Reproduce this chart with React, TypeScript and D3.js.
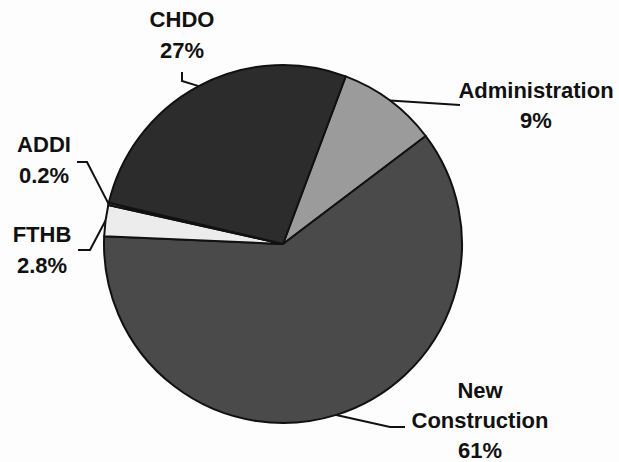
import React from "react";
import * as d3 from "d3";

const categories = ["Administration", "New Construction", "FTHB", "ADDI", "CHDO"];
const values = [9, 61, 2.8, 0.2, 27];
const valueLabels = ["9%", "61%", "2.8%", "0.2%", "27%"];
const labelLines: string[][] = [["Administration"], ["New", "Construction"], ["FTHB"], ["ADDI"], ["CHDO"]];
const colors = ["#9b9b9b", "#4a4a4a", "#ececec", "#e4e4e4", "#2c2c2c"];

const W = 619;
const H = 462;
const cx = 283;
const cy = 244;
const R = 179;

// layout for labels: [textX, firstBaseline, line height, elbow points...]
const labelLayout: { x: number; y: number; lh: number; path: [number, number][] }[] = [
  { x: 536, y: 98, lh: 30, path: [[460, 105]] },
  { x: 480, y: 398, lh: 30, path: [[390, 427], [405, 427]] },
  { x: 42, y: 242, lh: 31, path: [[90, 250], [78, 250]] },
  { x: 44, y: 152, lh: 31, path: [[87, 162], [77, 162]] },
  { x: 182, y: 27, lh: 31, path: [[182, 81], [182, 72]] },
];

export default function App() {
  const start = (20.5 * Math.PI) / 180;
  const pie = d3
    .pie<number>()
    .sort(null)
    .value((d) => d)
    .startAngle(start)
    .endAngle(start + 2 * Math.PI);
  const arcs = pie(values);
  const arc = d3.arc<d3.PieArcDatum<number>>().innerRadius(0).outerRadius(R);

  return (
    <svg
      width={W}
      height={H}
      style={{ position: "absolute", left: 0, top: 0, background: "#fdfdfd" }}
      fontFamily="'Liberation Sans', Arial, sans-serif"
      fontWeight="bold"
      fontSize={22}
    >
      <g transform={`translate(${cx},${cy})`}>
        {arcs.map((a, i) => (
          <path key={i} d={arc(a) || ""} fill={colors[i]} stroke="#111" strokeWidth={2} strokeLinejoin="round" />
        ))}
      </g>
      {arcs.map((a, i) => {
        const mid = (a.startAngle + a.endAngle) / 2;
        const px = cx + R * Math.sin(mid);
        const py = cy - R * Math.cos(mid);
        const L = labelLayout[i];
        const pts: [number, number][] = [[px, py], ...L.path];
        const lines = [...labelLines[i], valueLabels[i]];
        return (
          <g key={"l" + i}>
            <path d={d3.line()(pts) || ""} fill="none" stroke="#111" strokeWidth={2} />
            <text textAnchor="middle" fill="#111">
              {lines.map((t, j) => (
                <tspan key={j} x={L.x} y={L.y + j * L.lh}>
                  {t}
                </tspan>
              ))}
            </text>
          </g>
        );
      })}
    </svg>
  );
}
